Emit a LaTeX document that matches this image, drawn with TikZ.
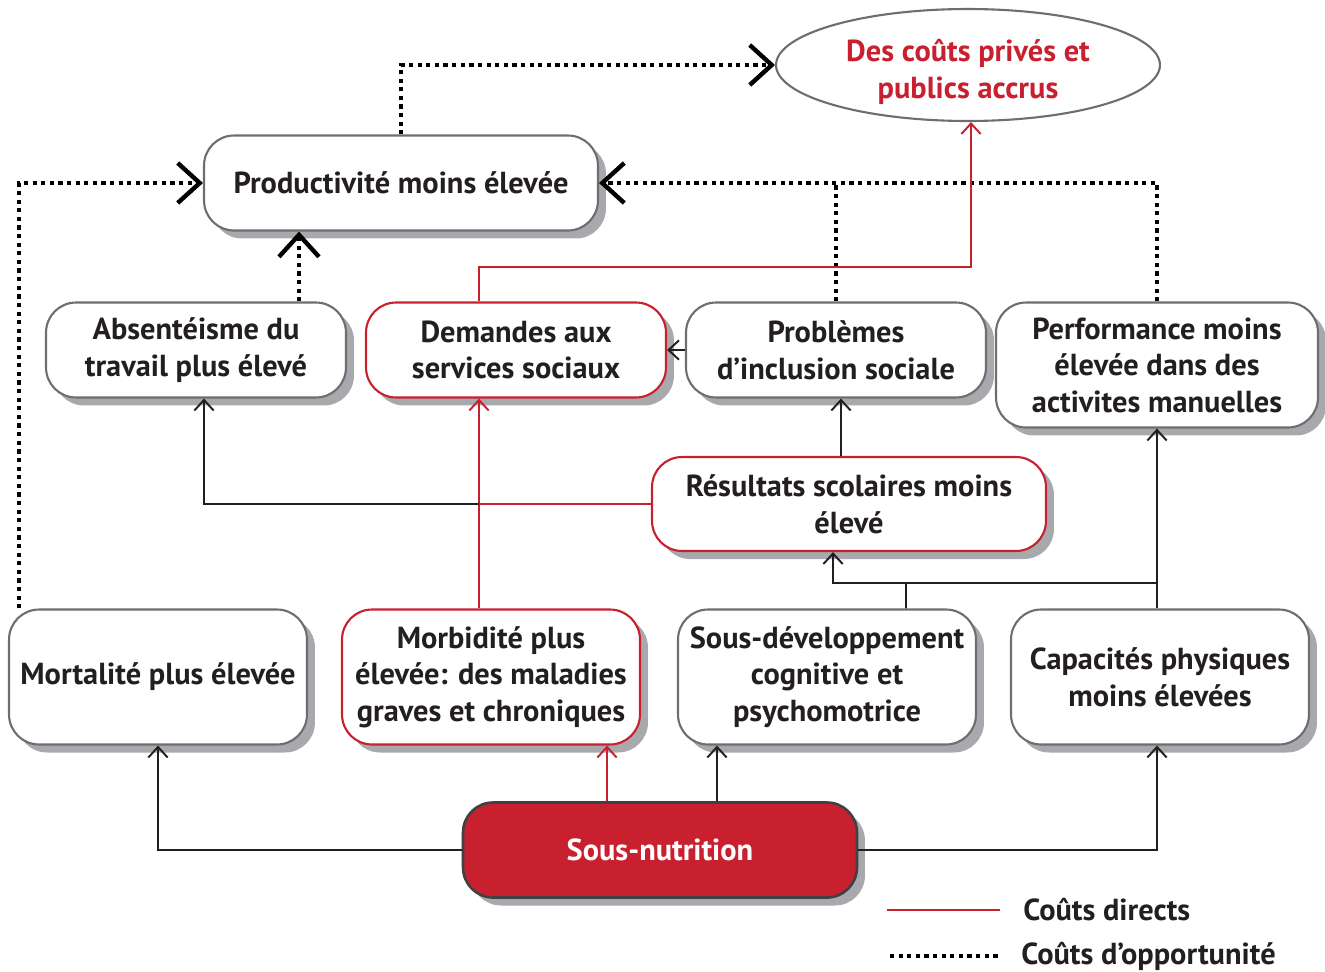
\documentclass[tikz,border=0pt]{standalone}
\usepackage{fontspec}
\setmainfont{PT Sans}
\usetikzlibrary{arrows.meta,shapes.geometric,shadows}

\definecolor{costred}{HTML}{C8202F}
\definecolor{boxgray}{HTML}{6D6E71}
\definecolor{shadowgray}{HTML}{A7A9AC}
\definecolor{nutgray}{HTML}{414042}
\definecolor{textblack}{HTML}{231F20}

\begin{document}
\begin{tikzpicture}[x=0.02cm,y=-0.02cm,
    label font/.style={font=\bfseries\fontsize{17.3}{20.8}\selectfont},
    cost node/.style={draw=boxgray,line width=1.2pt,rounded corners=0.6cm,fill=white,
        align=center,inner sep=1pt,text=textblack,label font,
        drop shadow={shadow xshift=0.16cm,shadow yshift=-0.16cm,fill=shadowgray,opacity=1}},
    red node/.style={cost node,draw=costred},
    wide node/.style={minimum width=7.88cm,minimum height=1.9cm},
    mid node/.style={minimum width=6cm,minimum height=1.9cm},
    tall node/.style={minimum width=5.96cm,minimum height=2.7cm},
    link/.style={line width=1.1pt,textblack,-{Straight Barb[length=6pt,width=11pt]}},
    red link/.style={link,costred},
    opp line/.style={line width=2.5pt,dash pattern=on 2.4pt off 2.5pt},
    opp link/.style={opp line,-{Straight Barb[length=0.44cm,width=0.8cm]}}]

    \useasboundingbox (0,0) rectangle (1325,971);

    % Define vertices
    \node[draw=boxgray,line width=1.2pt,ellipse,minimum width=7.68cm,minimum height=2.24cm,
        inner sep=0pt] (cost) at (968,65) {};
    \node[align=center,text=costred,label font] (costtext) at (968,72)
        {Des coûts privés et\\publics accrus};
    \node[cost node,wide node] (prod) at (401,183) {Productivité moins élevée};
    \node[cost node,mid node] (abs) at (196,350) {Absentéisme du\\travail plus élevé};
    \node[red node,mid node] (dem) at (516,350) {Demandes aux\\services sociaux};
    \node[cost node,mid node] (prob) at (836,350) {Problèmes\\d’inclusion sociale};
    \node[cost node,minimum width=6.44cm,minimum height=2.5cm] (perf) at (1157,365)
        {Performance moins\\élevée dans des\\activites manuelles};
    \node[red node,wide node,minimum height=1.88cm] (res) at (849,504)
        {Résultats scolaires moins\\élevé};
    \node[cost node,tall node] (mort) at (158,677) {Mortalité plus élevée};
    \node[red node,tall node] (morb) at (491,677)
        {Morbidité plus\\élevée: des maladies\\graves et chroniques};
    \node[cost node,tall node] (sdev) at (827,677)
        {Sous-développement\\cognitive et\\psychomotrice};
    \node[cost node,tall node] (cap) at (1160,677) {Capacités physiques\\moins élevées};
    \node[cost node,wide node,draw=nutgray,line width=1.5pt,fill=costred,text=white]
        (nut) at (660,850) {Sous-nutrition};

    \coordinate (demin) at ([xshift=-0.74cm]dem.south);
    \coordinate (redturn) at (971,267);
    \coordinate (bus) at (906,583);

    % Draw edges
    \draw[opp link] (prod.north) |- (cost.west);
    \draw[opp link] ([xshift=0.22cm]mort.north west) |- (prod.west);
    \draw[opp link] ([xshift=2.06cm]abs.north) -- ([xshift=2.06cm]abs.north |- prod.south);
    \draw[opp line] (prob.north) -- (prob.north |- prod.east);
    \draw[opp link] (perf.north) |- (prod.east);

    \draw[red link] ([xshift=-0.74cm]dem.north) |- (redturn) -- (redturn |- cost.south);
    \draw[red link] (morb.north -| demin) -- (demin);
    \draw[link] (res.west) -| ([xshift=0.16cm]abs.south);
    \draw[line width=1.1pt,costred] (res.west) -- (res.west -| demin);
    \draw[link] (prob.west) -- (dem.east);
    \draw[link] ([xshift=0.1cm]prob.south |- res.north) -- ([xshift=0.1cm]prob.south);
    \draw[line width=1.1pt,textblack] ([xshift=1.58cm]sdev.north) -- (bus);
    \draw[link] (bus -| perf.south) -- ([xshift=-0.32cm]res.south |- bus)
        -- ([xshift=-0.32cm]res.south);
    \draw[link] (perf.south |- cap.north) -- (perf.south);

    \draw[red link] ([xshift=-1.06cm]nut.north) -- ([xshift=-1.06cm]nut.north |- morb.south);
    \draw[link] ([xshift=1.14cm]nut.north) -- ([xshift=1.14cm]nut.north |- sdev.south);
    \draw[link] (nut.west) -| (mort.south);
    \draw[link] (nut.east) -| (perf.south |- cap.south);

    % Legend
    \coordinate (redA) at (887,910);
    \coordinate (redB) at (1000,910);
    \coordinate (oppA) at (890,956);
    \coordinate (oppB) at (1000,956);
    \draw[line width=1.1pt,costred] (redA) -- (redB);
    \draw[opp line] (oppA) -- (oppB);
    \node[anchor=west,inner sep=0pt,text=textblack,label font]
        (directs) at (1023,910) {Coûts directs};
    \node[anchor=west,inner sep=0pt,text=textblack,label font]
        (opport) at (1021,956) {Coûts d’opportunité};

\end{tikzpicture}
\end{document}
